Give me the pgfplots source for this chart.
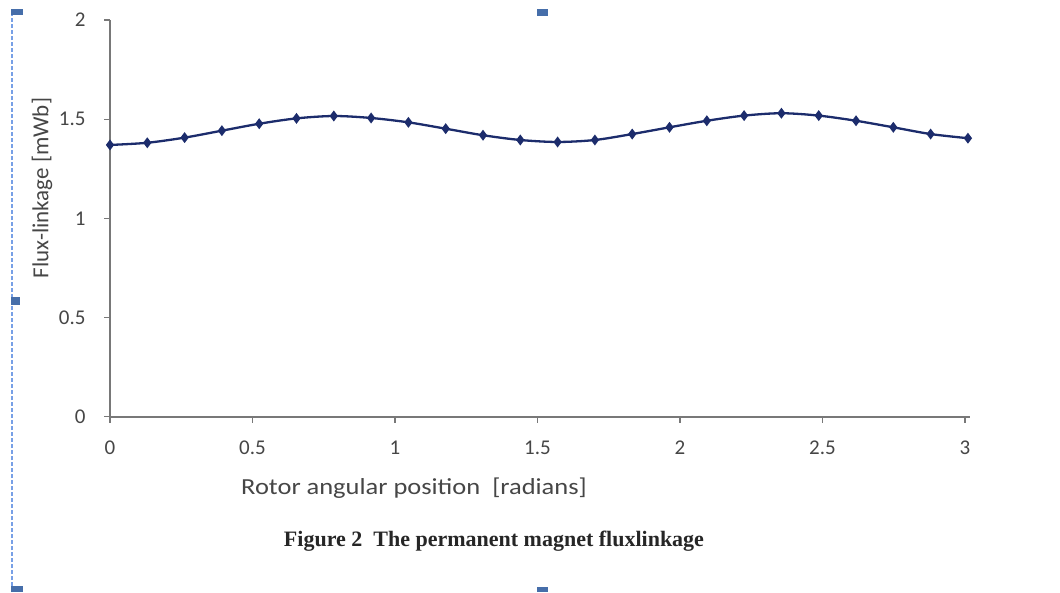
\documentclass[border=0pt]{standalone}
\usepackage{pgfplots}
\pgfplotsset{compat=1.18}
\usepackage{fontspec}
\setmainfont{Carlito}
\newfontfamily\timesf{Liberation Serif}
\definecolor{navy}{RGB}{28,44,108}
\definecolor{handle}{RGB}{70,110,170}
\definecolor{handlelight}{RGB}{120,160,230}
\definecolor{axgray}{RGB}{120,120,120}
\definecolor{txtgray}{RGB}{70,70,70}
\begin{document}
\begin{tikzpicture}[x=1pt,y=1pt]
\path[use as bounding box] (0,0) rectangle (1060,592);
% selection frame decorations
\draw[handlelight, dash pattern=on 4pt off 2pt, line width=1.2pt] (12,0) -- (12,577);
\fill[handle] (11,577) rectangle (23,583);
\fill[handle] (537,576) rectangle (548,583);
\fill[handle] (11,287) rectangle (20,295);
\fill[handle] (11,0) rectangle (23,6);
\fill[handle] (537,0) rectangle (548,5);
\begin{axis}[
  at={(110pt,175.3pt)}, anchor=south west,
  scale only axis, width=860pt, height=396.7pt,
  xmin=0, xmax=3.018, ymin=0, ymax=2,
  axis x line*=bottom, axis y line*=left,
  axis line style={axgray, line width=1.6pt, -},
  xtick={0,0.5,1,1.5,2,2.5,3},
  ytick={0,0.5,1,1.5,2},
  tick style={axgray, line width=1.3pt},
  tick align=outside, major tick length=6pt,
  /pgf/number format/assume math mode=true,
  tick label style={font=\fontsize{21}{24}\selectfont, text=txtgray},
  xticklabel style={yshift=-15pt},
  yticklabel style={xshift=-15pt},
  clip=false,
]
\addplot[navy, line width=2.3pt, smooth, tension=0.5, mark=diamond*, mark size=3.6pt, mark options={solid, fill=navy}] coordinates {
(0.0000,1.370) (0.1309,1.381) (0.2618,1.407) (0.3927,1.442) (0.5236,1.477) (0.6545,1.504)
(0.7854,1.516) (0.9163,1.506) (1.0472,1.484) (1.1781,1.452) (1.3090,1.419) (1.4399,1.395)
(1.5708,1.385) (1.7017,1.395) (1.8326,1.425) (1.9635,1.459) (2.0944,1.492) (2.2253,1.518)
(2.3562,1.530) (2.4871,1.518) (2.6180,1.492) (2.7489,1.459) (2.8798,1.425) (3.0107,1.404)
};
\end{axis}
\node[text=txtgray] at (414,104) {\scalebox{1.15}[1]{\fontsize{23}{27}\selectfont Rotor angular position\ \ [radians]}};
\node[text=txtgray, rotate=90] at (42,404) {\fontsize{23}{27}\selectfont Flux-linkage [mWb]};
\node[text=black!85] at (494,51) {\timesf\bfseries\fontsize{22}{26}\selectfont Figure 2\ \ The permanent magnet fluxlinkage};
\end{tikzpicture}
\end{document}
